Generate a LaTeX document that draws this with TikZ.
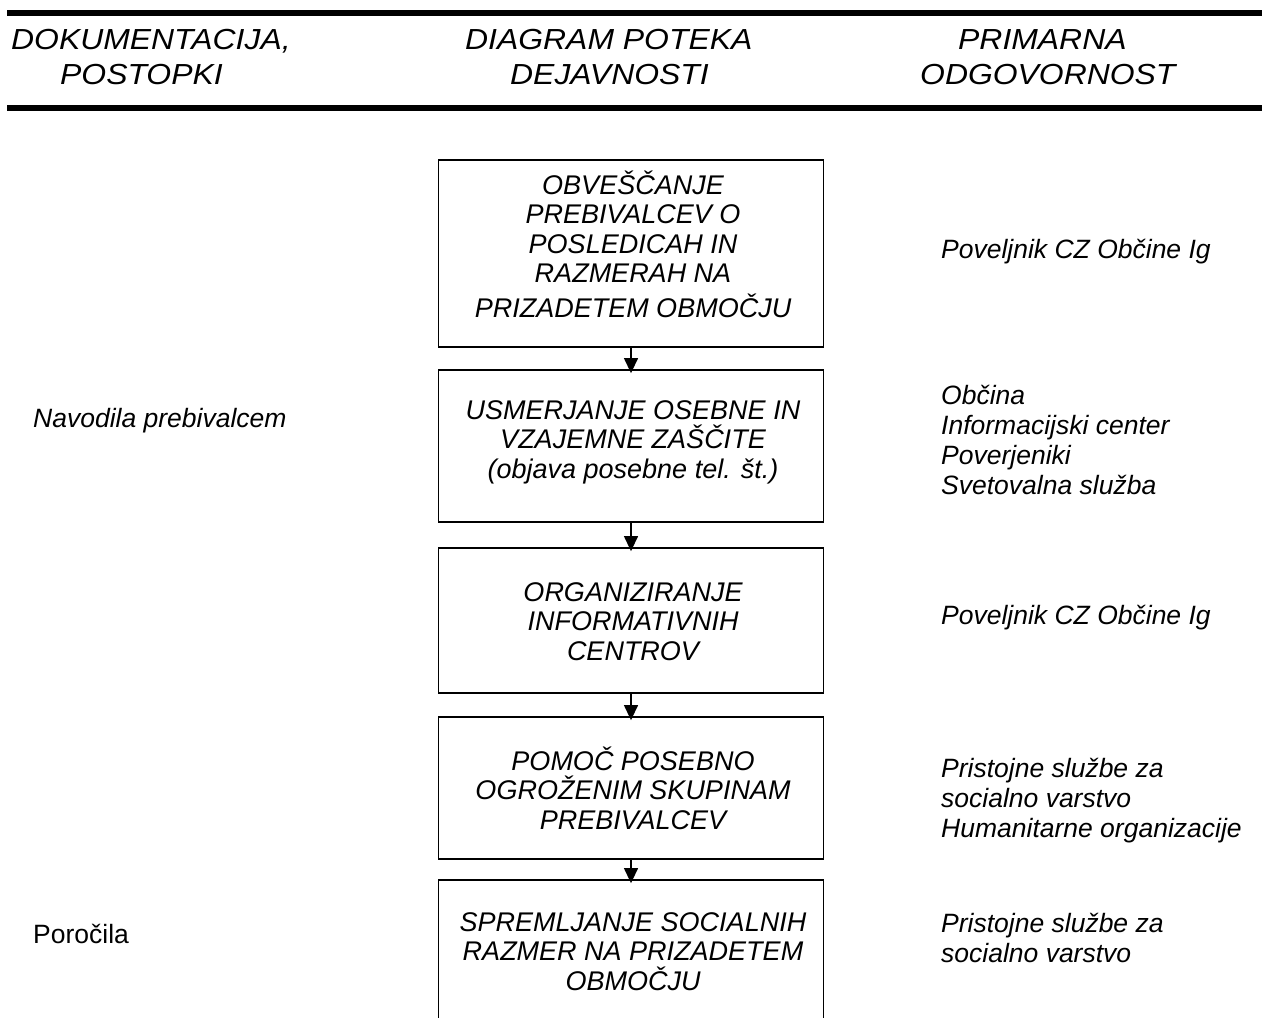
\documentclass[tikz,border=0pt]{standalone}
\usepackage{fontspec}
\setmainfont{Liberation Sans}
\newfontfamily\hdrfont[FakeStretch=1.1]{Liberation Sans}
\usetikzlibrary{arrows.meta}
\begin{document}
\begin{tikzpicture}[x=1pt,y=-1pt,
  boxst/.style={draw, line width=1.8pt, minimum width=385pt, inner sep=0pt},
  boxtxt/.style={font=\fontsize{27}{29.5}\selectfont\itshape, align=center, inner sep=0pt, anchor=base},
  side/.style={font=\fontsize{26.5}{30}\selectfont\itshape, align=left, inner sep=0pt, anchor=base west},
  hdr/.style={font=\hdrfont\fontsize{29}{34}\selectfont\itshape, inner sep=0pt, anchor=base west},
  hrule/.style={line width=6pt},
  arr/.style={-{Triangle[length=15pt,width=14pt]}, line width=1.3pt, shorten >=-4pt}]
\useasboundingbox (0,0) rectangle (1268,1017);
\clip (0,0) rectangle (1268,1017);
% rules
\coordinate (ra) at (7,12.5);
\coordinate (rb) at (1262,12.5);
\coordinate (rc) at (7,107.5);
\coordinate (rd) at (1262,107.5);
\draw[hrule] (ra) -- (rb);
\draw[hrule] (rc) -- (rd);
% header
\node[hdr] (h1) at (11,49) {DOKUMENTACIJA,};
\node[hdr] (h2) at (60,84) {POSTOPKI};
\node[hdr] (h3) at (465,49) {DIAGRAM POTEKA};
\node[hdr] (h4) at (510,84) {DEJAVNOSTI};
\node[hdr] (h5) at (958,49) {PRIMARNA};
\node[hdr] (h6) at (920,84) {ODGOVORNOST};
% boxes
\node[boxst, minimum height=187pt] (b1) at (631,253.5) {};
\node[boxst, minimum height=152pt] (b2) at (631,446) {};
\node[boxst, minimum height=145pt] (b3) at (631,620.5) {};
\node[boxst, minimum height=142pt] (b4) at (631,788) {};
\node[boxst, minimum height=170pt] (b5) at (631,965) {};
% box texts
\node[boxtxt] (t1) at (633,317) {OBVEŠČANJE\\PREBIVALCEV O\\POSLEDICAH IN\\RAZMERAH NA\\[5pt]PRIZADETEM OBMOČJU};
\node[boxtxt] (t2) at (633,478) {USMERJANJE OSEBNE IN\\VZAJEMNE ZAŠČITE\\(objava posebne tel. št.)};
\node[boxtxt] (t3) at (633,660) {ORGANIZIRANJE\\INFORMATIVNIH\\CENTROV};
\node[boxtxt] (t4) at (633,829) {POMOČ POSEBNO\\OGROŽENIM SKUPINAM\\PREBIVALCEV};
\node[boxtxt] (t5) at (633,990) {SPREMLJANJE SOCIALNIH\\RAZMER NA PRIZADETEM\\OBMOČJU};
% arrows
\draw[arr] (b1.south) -- (b2.north);
\draw[arr] (b2.south) -- (b3.north);
\draw[arr] (b3.south) -- (b4.north);
\draw[arr] (b4.south) -- (b5.north);
% left column
\node[side] (l1) at (33,427) {Navodila prebivalcem};
\node[side, font=\fontsize{26.5}{30}\selectfont\upshape] (l2) at (33,943) {Poročila};
% right column
\node[side] (p1) at (941,258) {Poveljnik CZ Občine Ig};
\node[side] (p2) at (941,494) {Občina\\Informacijski center\\Poverjeniki\\Svetovalna služba};
\node[side] (p3) at (941,624) {Poveljnik CZ Občine Ig};
\node[side] (p4) at (941,837) {Pristojne službe za\\socialno varstvo\\Humanitarne organizacije};
\node[side] (p5) at (941,962) {Pristojne službe za\\socialno varstvo};
\end{tikzpicture}
\end{document}
